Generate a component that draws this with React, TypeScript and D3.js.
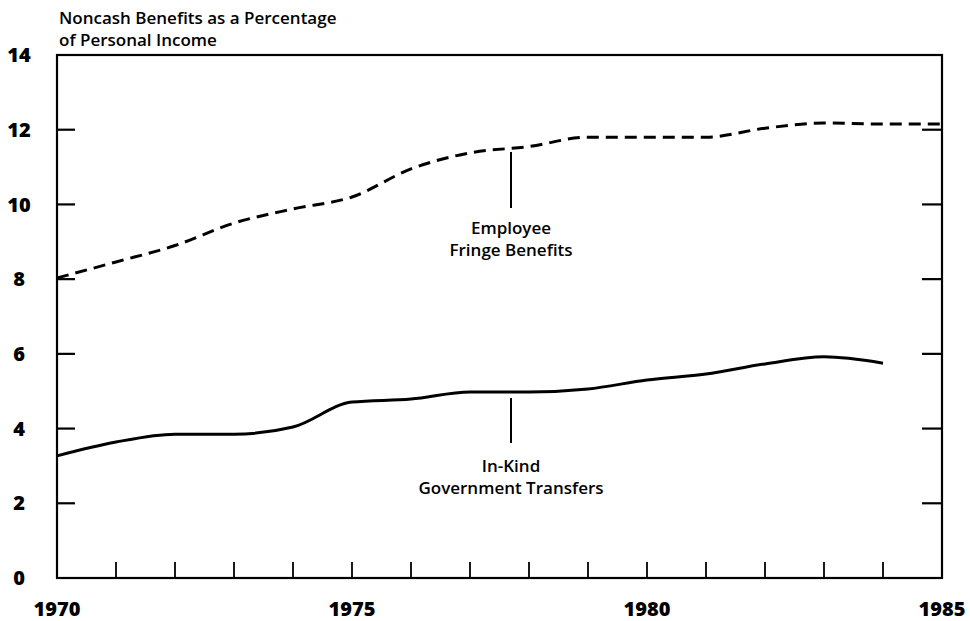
import React, { useRef, useEffect } from 'react';
import * as d3 from 'd3';

const years = [1970, 1971, 1972, 1973, 1974, 1975, 1976, 1977, 1978, 1979, 1980, 1981, 1982, 1983, 1984, 1985];
const fringeBenefits = [8.03, 8.46, 8.9, 9.5, 9.88, 10.2, 10.95, 11.38, 11.55, 11.8, 11.8, 11.8, 12.04, 12.18, 12.15, 12.15];
const inKindYears = years.slice(0, 15);
const inKindTransfers = [3.27, 3.64, 3.85, 3.85, 4.04, 4.71, 4.79, 4.98, 4.98, 5.06, 5.3, 5.46, 5.73, 5.92, 5.75];
const yTicks = [0, 2, 4, 6, 8, 10, 12, 14];
const xLabels = [1970, 1975, 1980, 1985];
const titleLines = ['Noncash Benefits as a Percentage', 'of Personal Income'];
const fringeLabel = ['Employee', 'Fringe Benefits'];
const inKindLabel = ['In-Kind', 'Government Transfers'];

const font = '"Open Sans", "Noto Sans", sans-serif';

function App() {
  const ref = useRef<SVGSVGElement>(null);

  useEffect(() => {
    const svg = d3.select(ref.current);
    svg.selectAll('*').remove();

    const left = 57;
    const right = 942;
    const top = 55;
    const bottom = 578;

    const x = d3.scaleLinear().domain([1970, 1985]).range([left, right]);
    const y = d3.scaleLinear().domain([0, 14]).range([bottom, top]);

    // frame
    svg
      .append('rect')
      .attr('x', left)
      .attr('y', top)
      .attr('width', right - left)
      .attr('height', bottom - top)
      .attr('fill', 'none')
      .attr('stroke', '#000')
      .attr('stroke-width', 2.2);

    // y ticks on both sides, pointing inward
    const inner = yTicks.filter((t) => t > 0 && t < 14);
    svg
      .append('g')
      .selectAll('line')
      .data(inner)
      .enter()
      .append('line')
      .attr('x1', left)
      .attr('x2', left + 18)
      .attr('y1', (d) => y(d))
      .attr('y2', (d) => y(d))
      .attr('stroke', '#000')
      .attr('stroke-width', 2.2);
    svg
      .append('g')
      .selectAll('line')
      .data(inner)
      .enter()
      .append('line')
      .attr('x1', right)
      .attr('x2', right - 20)
      .attr('y1', (d) => y(d))
      .attr('y2', (d) => y(d))
      .attr('stroke', '#000')
      .attr('stroke-width', 2.2);

    // x ticks pointing up
    svg
      .append('g')
      .selectAll('line')
      .data(years.slice(1, -1))
      .enter()
      .append('line')
      .attr('x1', (d) => x(d))
      .attr('x2', (d) => x(d))
      .attr('y1', bottom)
      .attr('y2', bottom - 16)
      .attr('stroke', '#000')
      .attr('stroke-width', 1.8);

    // y labels
    svg
      .append('g')
      .selectAll('text')
      .data(yTicks)
      .enter()
      .append('text')
      .attr('x', 19)
      .attr('y', (d) => y(d))
      .attr('dy', '0.36em')
      .attr('text-anchor', 'middle')
      .attr('font-family', font)
      .attr('font-weight', 800)
      .attr('font-size', 20)
      .text((d) => d);

    // x labels
    svg
      .append('g')
      .selectAll('text')
      .data(xLabels)
      .enter()
      .append('text')
      .attr('x', (d) => x(d))
      .attr('y', 616)
      .attr('text-anchor', 'middle')
      .attr('font-family', font)
      .attr('font-weight', 800)
      .attr('font-size', 20)
      .text((d) => d);

    // title
    svg
      .append('g')
      .selectAll('text')
      .data(titleLines)
      .enter()
      .append('text')
      .attr('x', 59)
      .attr('y', (d, i) => 24 + i * 22)
      .attr('font-family', font)
      .attr('font-weight', 600)
      .attr('font-size', 17)
      .text((d) => d);

    const line = d3
      .line<number>()
      .curve(d3.curveMonotoneX);

    svg
      .append('path')
      .attr(
        'd',
        line.x((d, i) => x(years[i])).y((d) => y(d))(fringeBenefits)
      )
      .attr('fill', 'none')
      .attr('stroke', '#000')
      .attr('stroke-width', 3)
      .attr('stroke-dasharray', '12,7');

    svg
      .append('path')
      .attr(
        'd',
        line.x((d, i) => x(inKindYears[i])).y((d) => y(d))(inKindTransfers)
      )
      .attr('fill', 'none')
      .attr('stroke', '#000')
      .attr('stroke-width', 3);

    // annotations
    const annot = (lx: number, y1: number, y2: number, lines: string[], ty: number) => {
      svg
        .append('line')
        .attr('x1', lx)
        .attr('x2', lx)
        .attr('y1', y1)
        .attr('y2', y2)
        .attr('stroke', '#000')
        .attr('stroke-width', 2);
      svg
        .append('g')
        .selectAll('text')
        .data(lines)
        .enter()
        .append('text')
        .attr('x', lx)
        .attr('y', (d, i) => ty + i * 22)
        .attr('text-anchor', 'middle')
        .attr('font-family', font)
        .attr('font-weight', 600)
        .attr('font-size', 17)
        .text((d) => d);
    };
    annot(511, 152, 208, fringeLabel, 234);
    annot(511, 398, 443, inKindLabel, 472);
  }, []);

  return (
    <svg
      ref={ref}
      width={970}
      height={621}
      style={{ position: 'absolute', left: 0, top: 0, background: '#fff' }}
    />
  );
}

export default App;
